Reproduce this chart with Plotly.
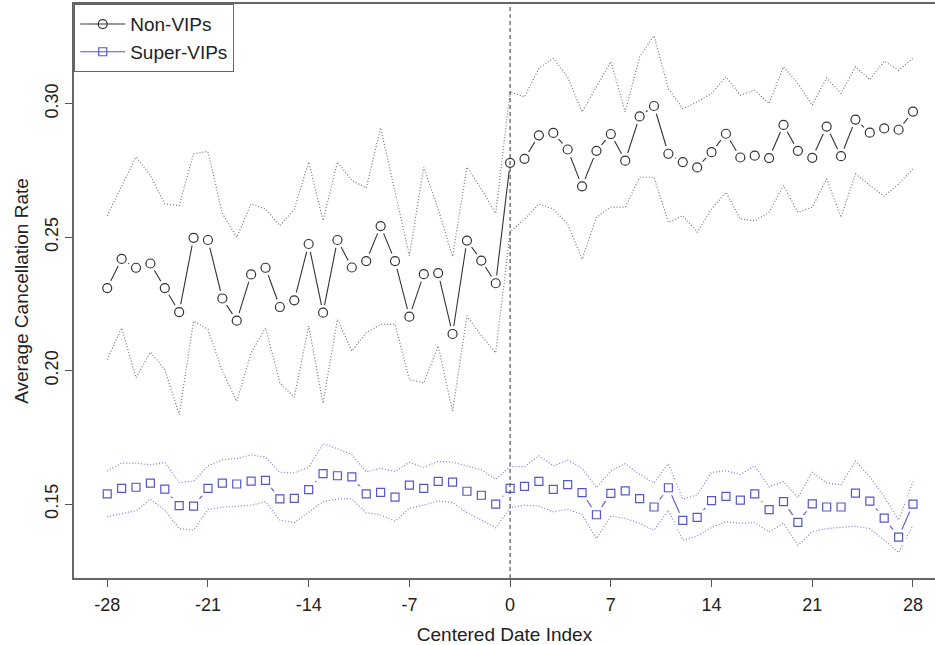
import plotly.graph_objects as go

days = list(range(-28, 29))
tick_vals = [-28, -21, -14, -7, 0, 7, 14, 21, 28]
tick_labels = ["-28", "-21", "-14", "-7", "0", "7", "14", "21", "28"]
y_ticks = [0.15, 0.20, 0.25, 0.30]
y_tick_labels = ["0.15", "0.20", "0.25", "0.30"]

non_vip = [0.2309, 0.2418, 0.2385, 0.2401, 0.2309, 0.2219, 0.2497, 0.2489, 0.2270, 0.2187,
           0.2360, 0.2385, 0.2238, 0.2263, 0.2474, 0.2217, 0.2489, 0.2386, 0.2410, 0.2541,
           0.2410, 0.2202, 0.2361, 0.2365, 0.2137, 0.2487, 0.2412, 0.2327, 0.2778, 0.2793,
           0.2881, 0.2890, 0.2828, 0.2690, 0.2823, 0.2886, 0.2786, 0.2952, 0.2991, 0.2812,
           0.2781, 0.2761, 0.2818, 0.2887, 0.2798, 0.2805, 0.2796, 0.2920, 0.2823, 0.2797,
           0.2914, 0.2803, 0.2940, 0.2891, 0.2907, 0.2902, 0.2970]
non_vip_upper = [0.2580, 0.2693, 0.2800, 0.2731, 0.2624, 0.2618, 0.2812, 0.2821, 0.2589, 0.2499,
                 0.2624, 0.2605, 0.2543, 0.2605, 0.2781, 0.2562, 0.2781, 0.2712, 0.2684, 0.2909,
                 0.2668, 0.2430, 0.2762, 0.2605, 0.2427, 0.2762, 0.2680, 0.2589, 0.3044, 0.3025,
                 0.3132, 0.3169, 0.3100, 0.2969, 0.3063, 0.3157, 0.2969, 0.3175, 0.3254, 0.3056,
                 0.2981, 0.3006, 0.3038, 0.3100, 0.3032, 0.3050, 0.3000, 0.3138, 0.3075, 0.2994,
                 0.3096, 0.3038, 0.3138, 0.3090, 0.3159, 0.3125, 0.3170]
non_vip_lower = [0.2041, 0.2160, 0.1973, 0.2069, 0.2004, 0.1835, 0.2185, 0.2154, 0.1998, 0.1885,
                 0.2066, 0.2160, 0.1954, 0.1900, 0.2167, 0.1878, 0.2192, 0.2073, 0.2142, 0.2173,
                 0.2173, 0.1966, 0.1954, 0.2092, 0.1848, 0.2205, 0.2130, 0.2066, 0.2519, 0.2568,
                 0.2624, 0.2605, 0.2549, 0.2417, 0.2574, 0.2612, 0.2612, 0.2724, 0.2724, 0.2555,
                 0.2580, 0.2518, 0.2605, 0.2668, 0.2568, 0.2561, 0.2593, 0.2693, 0.2593, 0.2612,
                 0.2718, 0.2574, 0.2737, 0.2693, 0.2653, 0.2699, 0.2756]

super_vip = [0.1538, 0.1559, 0.1563, 0.1578, 0.1556, 0.1494, 0.1492, 0.1559, 0.1578, 0.1575,
             0.1586, 0.1589, 0.1519, 0.1521, 0.1554, 0.1614, 0.1606, 0.1602, 0.1538, 0.1544,
             0.1526, 0.1571, 0.1559, 0.1585, 0.1582, 0.1548, 0.1533, 0.1500, 0.1559, 0.1566,
             0.1585, 0.1555, 0.1573, 0.1543, 0.1460, 0.1540, 0.1549, 0.1520, 0.1489, 0.1561,
             0.1439, 0.1450, 0.1513, 0.1529, 0.1515, 0.1538, 0.1479, 0.1509, 0.1431, 0.1501,
             0.1489, 0.1489, 0.1541, 0.1511, 0.1447, 0.1376, 0.1500]
super_vip_upper = [0.1624, 0.1653, 0.1653, 0.1647, 0.1656, 0.1581, 0.1586, 0.1643, 0.1666, 0.1671,
                   0.1684, 0.1675, 0.1619, 0.1617, 0.1638, 0.1726, 0.1707, 0.1686, 0.1621, 0.1634,
                   0.1622, 0.1656, 0.1637, 0.1660, 0.1657, 0.1643, 0.1628, 0.1593, 0.1640, 0.1640,
                   0.1681, 0.1643, 0.1665, 0.1634, 0.1562, 0.1624, 0.1651, 0.1611, 0.1579, 0.1651,
                   0.1519, 0.1534, 0.1619, 0.1624, 0.1611, 0.1643, 0.1565, 0.1584, 0.1524, 0.1619,
                   0.1579, 0.1572, 0.1660, 0.1603, 0.1527, 0.1440, 0.1584]
super_vip_lower = [0.1453, 0.1465, 0.1475, 0.1518, 0.1477, 0.1408, 0.1402, 0.1480, 0.1488, 0.1492,
                   0.1496, 0.1509, 0.1440, 0.1430, 0.1468, 0.1509, 0.1519, 0.1519, 0.1468, 0.1459,
                   0.1436, 0.1484, 0.1496, 0.1512, 0.1505, 0.1468, 0.1440, 0.1411, 0.1486, 0.1496,
                   0.1492, 0.1471, 0.1480, 0.1461, 0.1371, 0.1455, 0.1446, 0.1428, 0.1402, 0.1477,
                   0.1365, 0.1380, 0.1412, 0.1434, 0.1428, 0.1430, 0.1396, 0.1428, 0.1346, 0.1396,
                   0.1408, 0.1412, 0.1417, 0.1408, 0.1365, 0.1318, 0.1421]

FONT = "Liberation Sans, Arial, sans-serif"
GRAY_MAIN = "#333333"
GRAY_CI = "#777777"
BLUE_MAIN = "#5656cc"
BLUE_CI = "#7c7cdc"

fig = go.Figure()

def add_series(name, y, lo, hi, main_col, ci_col, symbol, msize):
    for band in (hi, lo):
        fig.add_trace(go.Scatter(x=days, y=band, mode="lines", showlegend=False,
                                 line=dict(color=ci_col, width=1.2, dash="1px,2px"),
                                 hoverinfo="skip"))
    fig.add_trace(go.Scatter(x=days, y=y, mode="lines", showlegend=False,
                             line=dict(color=main_col, width=1.1), hoverinfo="skip"))
    fig.add_trace(go.Scatter(x=days, y=y, mode="markers", showlegend=False,
                             marker=dict(symbol=symbol, size=msize + 7, color="white",
                                         line=dict(width=0)), hoverinfo="skip"))
    fig.add_trace(go.Scatter(x=days, y=y, mode="markers", showlegend=False, name=name,
                             marker=dict(symbol=symbol + "-open", size=msize, color=main_col,
                                         line=dict(width=1.2, color=main_col))))
    fig.add_trace(go.Scatter(x=[None], y=[None], mode="lines+markers", name=name,
                             line=dict(color=main_col, width=1.1),
                             marker=dict(symbol=symbol + "-open", size=msize, color=main_col,
                                         line=dict(width=1.2, color=main_col))))

add_series("Non-VIPs", non_vip, non_vip_lower, non_vip_upper, GRAY_MAIN, GRAY_CI, "circle", 9)
add_series("Super-VIPs", super_vip, super_vip_lower, super_vip_upper, BLUE_MAIN, BLUE_CI, "square", 8)

fig.add_shape(type="line", x0=0, x1=0, y0=0, y1=1, xref="x", yref="paper",
              line=dict(color="#555555", width=1.2, dash="4px,3px"), layer="above")

fig.update_layout(
    width=935, height=645,
    margin=dict(l=74, r=0, t=4, b=67),
    paper_bgcolor="white", plot_bgcolor="white",
    font=dict(family=FONT, size=18, color="#222222"),
    showlegend=True,
    legend=dict(x=0, y=1, xanchor="left", yanchor="top",
                bgcolor="white", bordercolor="#666666", borderwidth=1.2,
                font=dict(size=19, family=FONT, color="#222222"),
                tracegroupgap=0, itemwidth=45),
)

fig.update_xaxes(
    range=[-30.31, 29.53], tickmode="array", tickvals=tick_vals, ticktext=tick_labels,
    automargin=False,
    ticks="outside", ticklen=7, tickwidth=1.2, tickcolor="#555555",
    showline=True, linecolor="#666666", linewidth=1.5, mirror=True,
    showgrid=False, zeroline=False, ticklabelstandoff=3,
    tickfont=dict(size=18, family=FONT, color="#222222"),
    title=dict(text="Centered Date Index", font=dict(size=19, family=FONT, color="#222222"),
               standoff=14),
)
fig.update_yaxes(
    range=[0.1223, 0.3373], tickmode="array", tickvals=y_ticks, ticktext=y_tick_labels,
    tickangle=-90, automargin=False,
    ticks="outside", ticklen=7, tickwidth=1.2, tickcolor="#555555",
    showline=True, linecolor="#666666", linewidth=1.5, mirror=False,
    showgrid=False, zeroline=False,
    tickfont=dict(size=18, family=FONT, color="#222222"),
    title=dict(text="Average Cancellation Rate", font=dict(size=19, family=FONT, color="#222222"),
               standoff=8),
)

fig.write_html("out.html", config={"displayModeBar": False},
               post_script="document.body.style.margin='0';")
